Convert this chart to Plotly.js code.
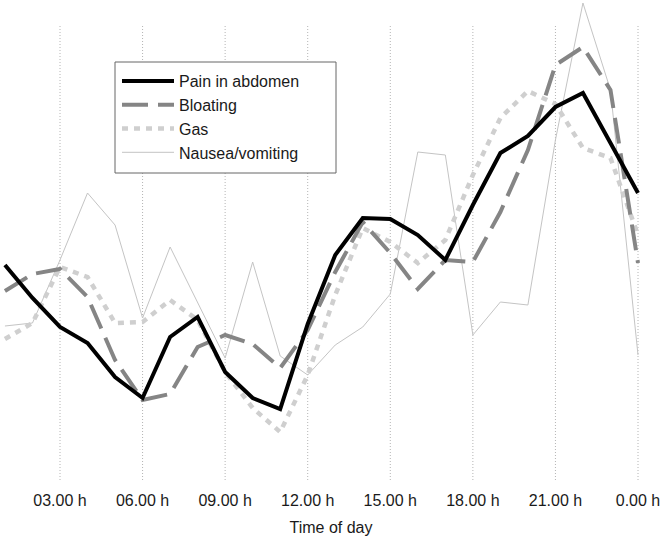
<!DOCTYPE html>
<html>
<head>
<meta charset="utf-8">
<script src="https://cdn.plot.ly/plotly-3.0.1.min.js"></script>
<style>
  html, body { margin: 0; padding: 0; background: #fff; }
  #chart { width: 662px; height: 538px; }
</style>
</head>
<body>
<div id="chart"></div>
<script>
// Hour of day (1 ... 24, where 24 = 0.00 h)
const hours = [1,2,3,4,5,6,7,8,9,10,11,12,13,14,15,16,17,18,19,20,21,22,23,24];

// Relative occurrence (arbitrary units)
const pain     = [215,182,153,137,103,82,143,163,108,82,71,156,225,262,261,245,220,275,327,344,373,387,337,287];
const bloating = [189,206,211,183,120,80,86,133,145,136,112,150,208,258,227,191,220,218,268,330,415,433,390,217];
const gas      = [141,157,213,203,157,158,180,160,108,72,48,105,185,252,238,217,240,305,362,389,376,332,322,245];
const nausea   = [154,157,220,287,255,162,233,177,122,218,124,105,135,153,186,328,325,145,178,175,340,477,390,125];

// Axis ticks
const tickVals  = [3,6,9,12,15,18,21,24];
const tickTexts = ['03.00 h','06.00 h','09.00 h','12.00 h','15.00 h','18.00 h','21.00 h','0.00 h'];

const seriesNames = ['Pain in abdomen','Bloating','Gas','Nausea/vomiting'];

const FONT = 'Liberation Sans, Arial, Helvetica, sans-serif';

const traces = [
  { x: hours, y: nausea, name: seriesNames[3], legendrank: 4, legendgroup: 'd',
    mode: 'lines', line: { color: '#c4c4c4', width: 1 } },
  { x: hours, y: gas, name: seriesNames[2], legendrank: 3, legendgroup: 'c',
    mode: 'lines', line: { color: '#cfcfcf', width: 4.5, dash: '6px,6px' } },
  { x: hours, y: bloating, name: seriesNames[1], legendrank: 2, legendgroup: 'b',
    mode: 'lines', line: { color: '#858585', width: 4, dash: '26px,10px' } },
  { x: hours, y: pain, name: seriesNames[0], legendrank: 1, legendgroup: 'a',
    mode: 'lines', line: { color: '#000000', width: 4 } }
];

const plotH = 480;
const shapes = tickVals.map(v => ({
  type: 'line', xref: 'x', yref: 'paper', x0: v, x1: v, y0: 0, y1: (plotH - 25) / plotH,
  layer: 'below', line: { color: '#b4b4b4', width: 1, dash: '1px,2px' }
}));
// legend frame
shapes.push({
  type: 'rect', xref: 'paper', yref: 'paper', layer: 'above',
  x0: 115 / 662, x1: 336 / 662, y0: 1 - 173 / plotH, y1: 1 - 62 / plotH,
  fillcolor: '#ffffff', line: { color: '#666666', width: 1 }
});

const layout = {
  width: 662, height: 538,
  margin: { l: 0, r: 0, t: 0, b: 58, pad: 0 },
  paper_bgcolor: '#ffffff', plot_bgcolor: '#ffffff',
  font: { family: FONT, size: 16, color: '#1a1a1a' },
  showlegend: true,
  legend: {
    x: 117 / 662, y: 1 - 64 / plotH, xanchor: 'left', yanchor: 'top',
    bgcolor: 'rgba(0,0,0,0)', borderwidth: 0, itemwidth: 52,
    tracegroupgap: 0, font: { family: FONT, size: 16, color: '#1a1a1a' },
    itemclick: false, itemdoubleclick: false
  },
  xaxis: {
    range: [0.82, 24.872], showgrid: false, zeroline: false, showline: false,
    tickmode: 'array', tickvals: tickVals, ticktext: tickTexts,
    ticks: 'outside', ticklen: 6, tickcolor: 'rgba(0,0,0,0)',
    tickfont: { family: FONT, size: 16, color: '#1a1a1a' },
    title: { text: 'Time of day', font: { family: FONT, size: 16, color: '#1a1a1a' }, standoff: 13 },
    automargin: false, fixedrange: true
  },
  yaxis: {
    range: [0, 480], visible: false, showgrid: false, zeroline: false, fixedrange: true
  },
  shapes: shapes
};

Plotly.newPlot('chart', traces, layout, { displayModeBar: false, staticPlot: true });
</script>
</body>
</html>
